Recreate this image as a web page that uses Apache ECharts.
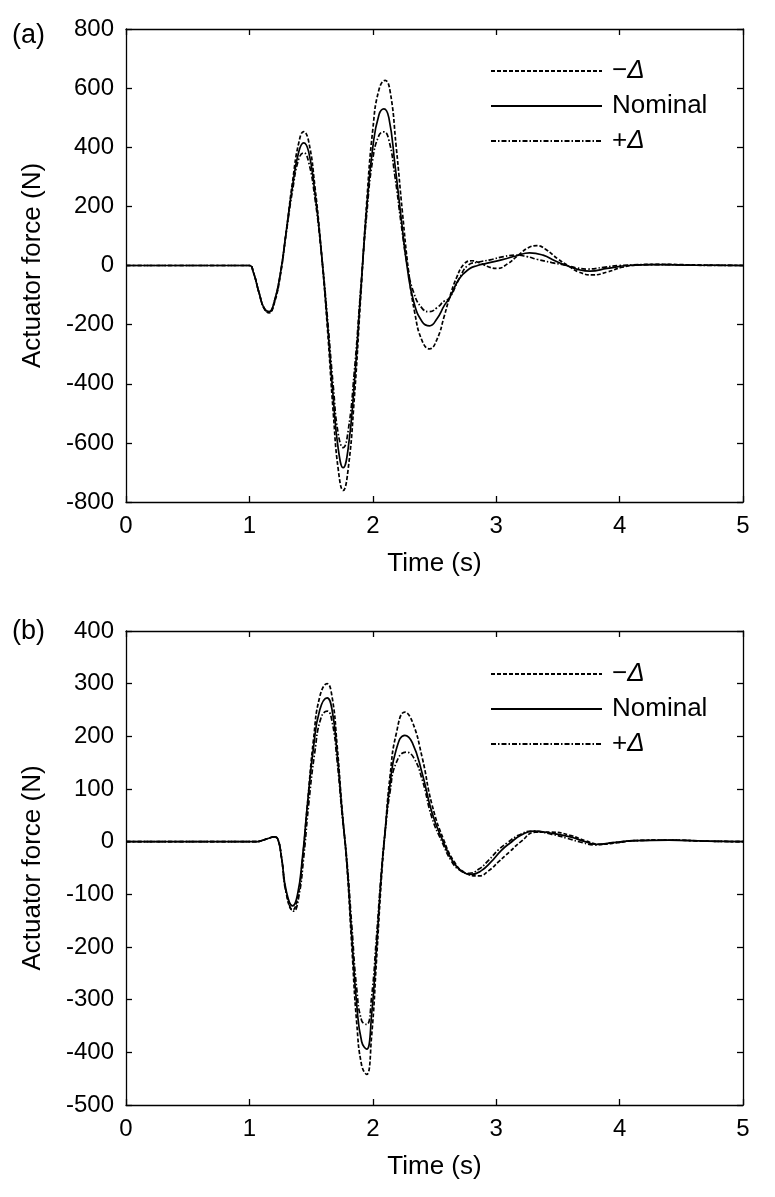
<!DOCTYPE html>
<html>
<head>
<meta charset="utf-8">
<script src="https://cdn.jsdelivr.net/npm/echarts@6/dist/echarts.min.js"></script>
<style>
  html, body { margin: 0; padding: 0; background: #fff; }
  #main { width: 775px; height: 1197px; }
</style>
</head>
<body>
<div id="main"></div>
<script>
const chart = echarts.init(document.querySelector('#main'));

const seriesNames = ['\u2212\u0394', 'Nominal', '+\u0394'];
const xTicks = [0, 1, 2, 3, 4, 5];

// (a) [time s, force N]
const aMinus = [
    [0, 0], [1.0, 0], [1.03, -20], [1.08, -95], [1.12, -145], [1.16, -160], [1.20, -130],
    [1.25, -35], [1.30, 120], [1.35, 285], [1.40, 415], [1.44, 453], [1.48, 420], [1.53, 270],
    [1.58, 60], [1.63, -200], [1.68, -500], [1.72, -690], [1.76, -761], [1.80, -690], [1.85, -450],
    [1.90, -120], [1.95, 210], [2.00, 460], [2.05, 595], [2.10, 626], [2.14, 590], [2.19, 400],
    [2.24, 180], [2.29, -20], [2.34, -160], [2.40, -255], [2.46, -282], [2.52, -250], [2.58, -170],
    [2.62, -111], [2.68, -40], [2.74, 5], [2.80, 16], [2.87, 8], [2.94, -5], [3.01, -10],
    [3.09, 5], [3.18, 35], [3.26, 60], [3.33, 67], [3.40, 55], [3.50, 22], [3.58, 0],
    [3.67, -22], [3.78, -32], [3.90, -22], [4.02, -6], [4.15, 2], [4.33, 4], [4.6, 2], [5, 0]
];
const aNominal = [
    [0, 0], [1.0, 0], [1.03, -20], [1.08, -95], [1.12, -145], [1.16, -156], [1.20, -125],
    [1.25, -30], [1.30, 120], [1.35, 270], [1.40, 385], [1.44, 415], [1.48, 385], [1.53, 250],
    [1.58, 60], [1.63, -180], [1.68, -450], [1.72, -620], [1.76, -684], [1.80, -620], [1.85, -400],
    [1.90, -100], [1.95, 190], [2.00, 400], [2.05, 510], [2.09, 530], [2.13, 500], [2.18, 340],
    [2.23, 160], [2.28, -10], [2.33, -120], [2.40, -190], [2.46, -204], [2.52, -180], [2.58, -135],
    [2.62, -111], [2.70, -45], [2.78, -12], [2.85, 0], [2.92, 7], [3.05, 20], [3.16, 32],
    [3.27, 43], [3.38, 35], [3.48, 15], [3.57, 0], [3.66, -13], [3.76, -19], [3.90, -10],
    [4.07, 0], [4.30, 3], [4.6, 1], [5, 0]
];
const aPlus = [
    [0, 0], [1.0, 0], [1.03, -20], [1.08, -95], [1.12, -145], [1.16, -158], [1.20, -125],
    [1.25, -30], [1.30, 115], [1.35, 255], [1.40, 360], [1.44, 381], [1.48, 350], [1.53, 230],
    [1.58, 55], [1.63, -165], [1.68, -410], [1.72, -570], [1.76, -616], [1.80, -560], [1.85, -360],
    [1.90, -90], [1.95, 170], [2.00, 360], [2.05, 440], [2.09, 452], [2.13, 425], [2.18, 300],
    [2.23, 140], [2.28, 0], [2.33, -90], [2.40, -145], [2.46, -156], [2.52, -143], [2.58, -120],
    [2.62, -111], [2.70, -45], [2.77, 0], [2.86, 12], [2.95, 19], [3.06, 30], [3.16, 35],
    [3.25, 30], [3.33, 21], [3.45, 10], [3.57, 0], [3.65, -8], [3.74, -12], [3.87, -6],
    [4.00, 0], [4.30, 3], [4.6, 1], [5, 0]
];

// (b) [time s, force N]
const bMinus = [
    [0, 0], [1.05, 0], [1.10, 2], [1.15, 6], [1.20, 9], [1.23, 5], [1.26, -30], [1.30, -98],
    [1.35, -130], [1.39, -108], [1.43, -35], [1.47, 70], [1.52, 195], [1.57, 275], [1.63, 300],
    [1.67, 275], [1.71, 185], [1.75, 65], [1.79, -45], [1.83, -200], [1.87, -345], [1.91, -425],
    [1.95, -442], [1.99, -370], [2.03, -225], [2.07, -70], [2.10, 20], [2.14, 125], [2.19, 205],
    [2.26, 246], [2.32, 228], [2.40, 160], [2.48, 70], [2.58, 0], [2.66, -38], [2.74, -58],
    [2.86, -65], [2.94, -55], [3.02, -38], [3.11, -19], [3.20, 0], [3.32, 18], [3.45, 18],
    [3.60, 12], [3.72, 2], [3.84, -5], [3.98, -2], [4.13, 2], [4.40, 3], [4.7, 1], [5, 0]
];
const bNominal = [
    [0, 0], [1.05, 0], [1.10, 2], [1.15, 6], [1.20, 9], [1.23, 5], [1.26, -30], [1.30, -95],
    [1.35, -122], [1.39, -100], [1.43, -30], [1.47, 70], [1.52, 180], [1.57, 250], [1.63, 273],
    [1.67, 250], [1.71, 170], [1.75, 60], [1.79, -40], [1.83, -180], [1.87, -310], [1.91, -380],
    [1.95, -394], [1.99, -330], [2.03, -200], [2.07, -60], [2.10, 20], [2.14, 110], [2.19, 175],
    [2.26, 202], [2.32, 188], [2.40, 130], [2.48, 55], [2.57, 0], [2.65, -38], [2.72, -56],
    [2.80, -62], [2.88, -55], [2.96, -38], [3.04, -17], [3.11, -3], [3.20, 12], [3.30, 20],
    [3.45, 16], [3.60, 9], [3.72, 0], [3.81, -5], [3.95, -2], [4.13, 2], [4.40, 3], [4.7, 1], [5, 0]
];
const bPlus = [
    [0, 0], [1.05, 0], [1.10, 2], [1.15, 6], [1.20, 9], [1.23, 5], [1.26, -30], [1.30, -100],
    [1.36, -132], [1.40, -105], [1.44, -30], [1.48, 70], [1.53, 170], [1.58, 235], [1.63, 248],
    [1.67, 228], [1.71, 155], [1.75, 55], [1.79, -35], [1.83, -160], [1.87, -280], [1.91, -340],
    [1.95, -347], [1.99, -295], [2.03, -180], [2.07, -55], [2.10, 18], [2.14, 95], [2.19, 150],
    [2.27, 170], [2.33, 160], [2.40, 118], [2.48, 45], [2.56, 0], [2.64, -38], [2.71, -55],
    [2.78, -60], [2.86, -52], [2.94, -35], [3.02, -15], [3.09, -2], [3.18, 12], [3.29, 20],
    [3.45, 14], [3.58, 6], [3.70, -2], [3.80, -6], [3.95, -2], [4.13, 2], [4.40, 3], [4.7, 1], [5, 0]
];

const FONT = 'Liberation Sans';
const lineTypes = [[4, 2], 'solid', [5, 2, 1.5, 2]];

function xAxes(grid) {
    const base = {
        type: 'value', gridIndex: grid, min: 0, max: 5, interval: 1,
        axisLine: { onZero: false, lineStyle: { color: '#000', width: 1.3 } },
        axisTick: { inside: true, length: 6, lineStyle: { color: '#000', width: 1.3 } },
        splitLine: { show: false }
    };
    return [
        Object.assign({}, base, {
            position: 'bottom',
            axisLabel: { color: '#000', fontSize: 24, fontFamily: FONT, margin: 12 },
            name: 'Time (s)', nameLocation: 'middle', nameGap: 49,
            nameTextStyle: { color: '#000', fontSize: 26, fontFamily: FONT }
        }),
        Object.assign({}, base, { position: 'top', axisLabel: { show: false } })
    ];
}

function yAxes(grid, min, max, step) {
    const base = {
        type: 'value', gridIndex: grid, min: min, max: max, interval: step,
        axisLine: { onZero: false, lineStyle: { color: '#000', width: 1.3 } },
        axisTick: { inside: true, length: 6, lineStyle: { color: '#000', width: 1.3 } },
        splitLine: { show: false }
    };
    return [
        Object.assign({}, base, {
            position: 'left',
            axisLabel: { color: '#000', fontSize: 24, fontFamily: FONT, margin: 12 },
            name: 'Actuator force (N)', nameLocation: 'middle', nameGap: 80,
            nameTextStyle: { color: '#000', fontSize: 26, fontFamily: FONT }
        }),
        Object.assign({}, base, { position: 'right', axisLabel: { show: false } })
    ];
}

function makeSeries(list, axisIdx) {
    return list.map((d, i) => ({
        name: seriesNames[i],
        type: 'line',
        xAxisIndex: axisIdx,
        yAxisIndex: axisIdx,
        data: d,
        smooth: 0.5,
        symbol: 'none',
        animation: false,
        lineStyle: { color: '#000', width: 1.7, type: lineTypes[i] },
        itemStyle: { color: 'rgba(0,0,0,0)' }
    }));
}

function makeLegend(top) {
    return {
        orient: 'vertical', left: 490, top: top, padding: 0,
        itemWidth: 111, itemHeight: 14, itemGap: 9,
        data: seriesNames,
        itemStyle: { opacity: 0 },
        formatter: (name) => name === 'Nominal' ? name : name[0] + '{i|\u0394}',
        textStyle: {
            color: '#000', fontSize: 26, fontFamily: FONT, lineHeight: 26,
            padding: [0, 0, 0, 5],
            rich: { i: { fontStyle: 'italic', fontSize: 26, fontFamily: FONT, color: '#000' } }
        },
        selectedMode: false
    };
}

const option = {
    backgroundColor: '#fff',
    animation: false,
    grid: [
        { left: 126, right: 32, top: 29, height: 473 },
        { left: 126, right: 32, top: 631, height: 474 }
    ],
    xAxis: xAxes(0).concat(xAxes(1)),
    yAxis: yAxes(0, -800, 800, 200).concat(yAxes(1, -500, 400, 100)),
    legend: [makeLegend(58), makeLegend(661)],
    graphic: [
        { type: 'text', left: 12, top: 22, style: { text: '(a)', fontSize: 27, fontFamily: FONT, fill: '#000' } },
        { type: 'text', left: 12, top: 618, style: { text: '(b)', fontSize: 27, fontFamily: FONT, fill: '#000' } }
    ],
    series: makeSeries([aMinus, aNominal, aPlus], 0).concat(
        makeSeries([bMinus, bNominal, bPlus], 2))
};

// grid 0 uses xAxis 0 / yAxis 0, grid 1 uses xAxis 2 / yAxis 2
chart.setOption(option);
</script>
</body>
</html>
